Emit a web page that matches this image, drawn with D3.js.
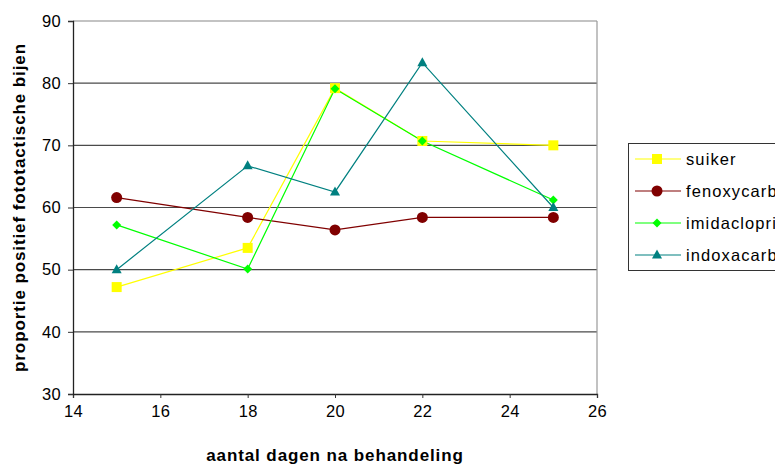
<!DOCTYPE html>
<html><head><meta charset="utf-8">
<script src="https://cdn.jsdelivr.net/npm/d3@7"></script>
<style>body{margin:0;background:#fff;} svg{display:block;font-family:"Liberation Sans",Arial,sans-serif;}</style>
</head><body>
<svg id="c" width="775" height="465"></svg>
<script>
const days = [15, 18, 20, 22, 25];
const suiker = [47.2, 53.5, 79.2, 70.7, 70.0];
const fenoxycarb = [61.6, 58.4, 56.4, 58.4, 58.4];
const imidacloprid = [57.2, 50.1, 79.1, 70.7, 61.2];
const indoxacarb = [50.0, 66.7, 62.5, 83.3, 60.0];
const seriesNames = ["suiker", "fenoxycarb", "imidacloprid", "indoxacarb"];
const xTicks = [14, 16, 18, 20, 22, 24, 26];
const yTicks = [30, 40, 50, 60, 70, 80, 90];
const xTitle = "aantal dagen na behandeling";
const yTitle = "proportie positief fototactische bijen";

const seriesValues = [suiker, fenoxycarb, imidacloprid, indoxacarb];
const colors = ["#FFFF00", "#800000", "#00FF00", "#008080"];
const markers = ["square", "circle", "diamond", "triangle"];

const svg = d3.select("#c");
const L = 73, R = 597, T = 21, B = 394;
const x = d3.scaleLinear().domain([14, 26]).range([L, R]);
const y = d3.scaleLinear().domain([30, 90]).range([B, T]);

// gridlines
svg.append("g").selectAll("line").data(yTicks.filter(v => v > 30)).join("line")
  .attr("x1", L).attr("x2", R).attr("y1", d => y(d)).attr("y2", d => y(d))
  .attr("stroke", d => d === 90 ? "#888" : "#4a4a4a").attr("stroke-width", 1.2);
// right border
svg.append("line").attr("x1", R).attr("x2", R).attr("y1", T).attr("y2", B).attr("stroke", "#999").attr("stroke-width", 1.2);

// axes
const xAxis = svg.append("g").attr("transform", `translate(0,${B})`)
  .call(d3.axisBottom(x).tickValues(xTicks).tickSize(4).tickPadding(7).tickFormat(d3.format("d")));
const yAxis = svg.append("g").attr("transform", `translate(${L},0)`)
  .call(d3.axisLeft(y).tickValues(yTicks).tickSize(5).tickPadding(7).tickFormat(d3.format("d")));
[xAxis, yAxis].forEach(a => {
  a.select(".domain").attr("stroke", "#222").attr("stroke-width", 1.3);
  a.selectAll(".tick line").attr("stroke", "#333");
  a.selectAll("text").attr("font-size", 16.5).attr("letter-spacing", 0.3).attr("fill", "#000").attr("font-family", "Liberation Sans, Arial, sans-serif");
});

// series
const line = d3.line().x((d, i) => x(days[i])).y(d => y(d));
function drawMarker(g, type, color) {
  if (type === "square") g.append("rect").attr("x", -5).attr("y", -5).attr("width", 10).attr("height", 10).attr("fill", color);
  else if (type === "circle") g.append("circle").attr("r", 5.5).attr("fill", color);
  else if (type === "diamond") g.append("path").attr("d", "M0,-4.5L4.5,0L0,4.5L-4.5,0Z").attr("fill", color);
  else g.append("path").attr("d", "M0,-5.5L5,3.5L-5,3.5Z").attr("fill", color);
}
seriesValues.forEach((vals, s) => {
  svg.append("path").attr("d", line(vals)).attr("fill", "none").attr("stroke", colors[s]).attr("stroke-width", 1.2);
});
seriesValues.forEach((vals, s) => {
  vals.forEach((v, i) => {
    const g = svg.append("g").attr("transform", `translate(${x(days[i])},${y(v)})`);
    drawMarker(g, markers[s], colors[s]);
  });
});

// titles
svg.append("text").attr("x", 335).attr("y", 461).attr("text-anchor", "middle")
  .attr("font-weight", "bold").attr("font-size", 17).attr("letter-spacing", 0.9).text(xTitle);
svg.append("text").attr("transform", `translate(25,${(T + B) / 2}) rotate(-90)`).attr("text-anchor", "middle")
  .attr("font-weight", "bold").attr("font-size", 17).attr("letter-spacing", 0.9).text(yTitle);

// legend
const lg = svg.append("g");
lg.append("rect").attr("x", 628.5).attr("y", 143.5).attr("width", 200).attr("height", 127)
  .attr("fill", "#fff").attr("stroke", "#333");
seriesNames.forEach((n, s) => {
  const ly = 159 + s * 32;
  lg.append("line").attr("x1", 635).attr("x2", 681).attr("y1", ly).attr("y2", ly).attr("stroke", colors[s]).attr("stroke-width", 1.2);
  drawMarker(lg.append("g").attr("transform", `translate(657,${ly})`), markers[s], colors[s]);
  lg.append("text").attr("x", 686).attr("y", ly + 6).attr("font-size", 16.5).attr("letter-spacing", 1.1).text(n);
});
</script>
</body></html>
